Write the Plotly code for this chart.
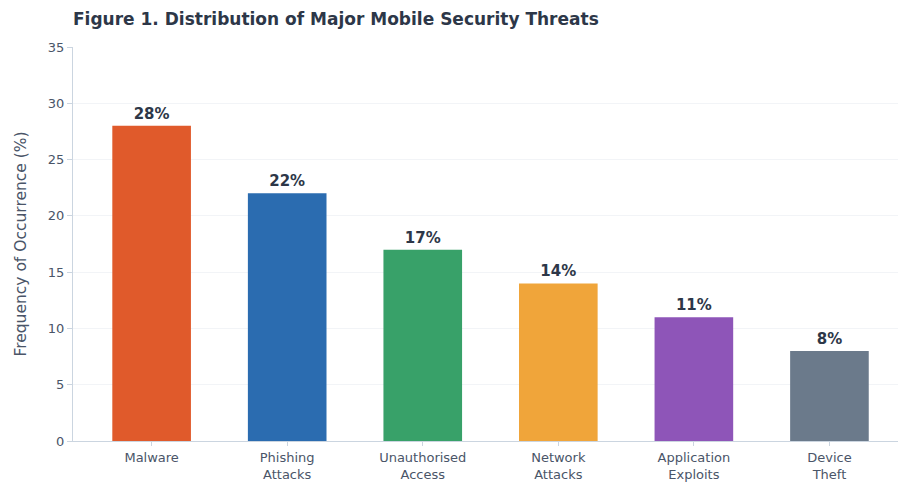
import plotly.graph_objects as go

categories = ["Malware", "Phishing<br>Attacks", "Unauthorised<br>Access", "Network<br>Attacks", "Application<br>Exploits", "Device<br>Theft"]
values = [28, 22, 17, 14, 11, 8]
labels = ["28%", "22%", "17%", "14%", "11%", "8%"]
colors = ["#E05A2B", "#2B6CB0", "#38A169", "#F0A53A", "#8E55B8", "#6B7A8B"]

fig = go.Figure(go.Bar(
    x=categories, y=values, marker=dict(color=colors, line=dict(width=0)),
    width=0.58, text=labels, textposition="outside",
    textfont=dict(family="DejaVu Sans", size=15, color="#2D3748"),
    texttemplate="<b>%{text}</b>", cliponaxis=False,
))

fig.update_layout(
    width=906, height=485,
    margin=dict(l=65, r=10, t=39, b=52, autoexpand=False),
    paper_bgcolor="white", plot_bgcolor="white",
    font=dict(family="DejaVu Sans", size=13, color="#4A5568"),
    title=dict(text="<b>Figure 1. Distribution of Major Mobile Security Threats</b>",
               x=65/906, xanchor="left", y=1 - 11/485, yanchor="middle",
               font=dict(family="DejaVu Sans", size=17, color="#2D3748")),
    showlegend=False,
)
fig.update_xaxes(
    range=[-0.58, 5.55], showline=True, linecolor="#CBD5E0", linewidth=1,
    ticks="outside", ticklen=4, tickcolor="#CBD5E0", showgrid=False, automargin=False,
    tickfont=dict(size=13, color="#4A5568"),
)
fig.update_yaxes(
    range=[0, 35], dtick=5, showline=True, linecolor="#CBD5E0", linewidth=1,
    ticks="outside", ticklen=5, tickcolor="#CBD5E0", automargin=False,
    showgrid=True, gridcolor="#F2F4F7", gridwidth=1, zeroline=False,
    tickfont=dict(size=13, color="#4A5568"),
    title=dict(text="Frequency of Occurrence (%)", font=dict(size=15.5, color="#4A5568"), standoff=17),
)

fig.write_html("out.html")
